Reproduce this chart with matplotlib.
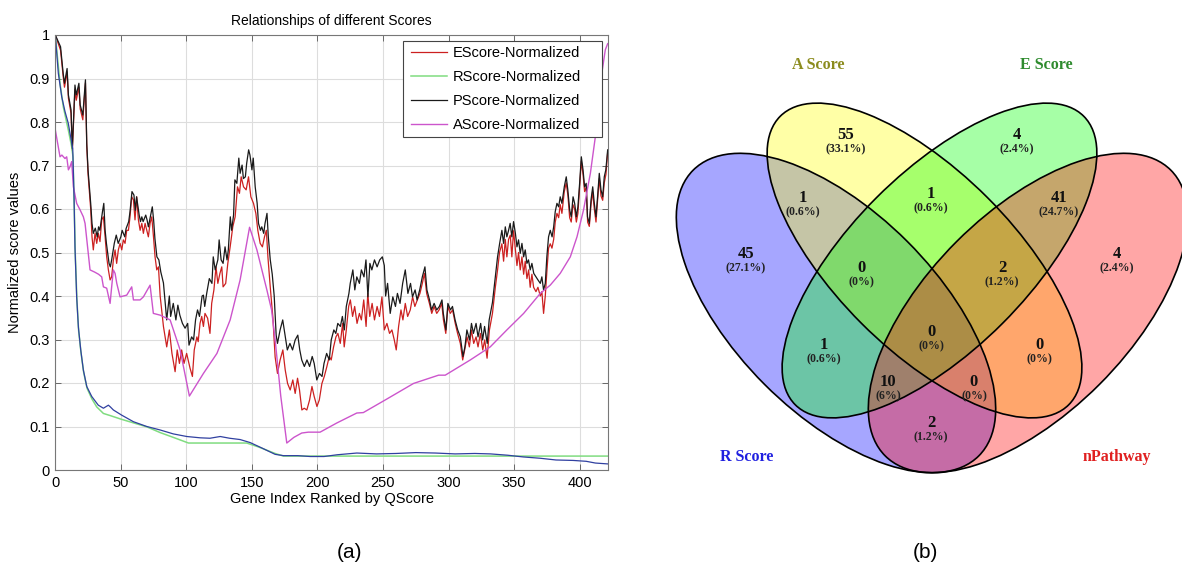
import matplotlib
matplotlib.use("Agg")
import matplotlib.pyplot as plt
from matplotlib.patches import Ellipse, Rectangle

# ---------------- panel (a): values ----------------
# PScore-Normalized (black)
p_idx = [0, 4, 6, 7, 9, 10, 12, 13, 15, 16, 18, 19, 21, 23, 24, 25, 27, 28, 29, 30.5,
         32, 33, 34, 36, 37, 38, 39, 41, 42, 43, 45, 46.5, 48, 50, 51, 53, 54, 56, 57, 58.5,
         60, 61, 62, 64, 65, 66, 67, 69, 70, 71, 72.5, 74, 75, 76, 77.5, 79, 80.5, 82.5, 85, 87,
         88, 90, 92, 93.5, 95, 97, 99, 101, 102, 104, 105.5, 107, 108.5, 110, 112, 113, 114, 115.5, 117.5, 119.5,
         120.5, 122, 124, 125, 126.5, 128, 129.5, 131, 132, 133.5, 134.5, 136, 137, 138.5, 140, 141, 142.5, 143.5, 145, 146,
         147.5, 148.5, 150, 151, 152.5, 154, 155, 156.5, 157.5, 159, 160, 161.5, 162.5, 164, 165.5, 167, 168.5, 169.5, 171.5, 173.5,
         175.5, 177, 179, 181, 183, 185, 186.5, 188, 190, 192, 194, 196, 197.5, 199.5, 201.5, 203.5, 205, 207, 209, 210.5,
         212.5, 214, 215.5, 217.5, 219, 220.5, 222, 224, 225, 227, 228.5, 230, 232, 233.5, 235.5, 237, 238.5, 240, 241.5, 243.5,
         245.5, 247.5, 249.5, 251, 252, 253.5, 255.5, 257.5, 259.5, 261, 263, 265, 267, 269, 271, 272.5, 274.5, 276, 278, 280,
         282, 283.5, 285.5, 287, 289, 291, 293, 295, 296, 298, 299.5, 301.5, 303, 305, 307, 309, 311, 312.5, 314, 316,
         317.5, 319, 321, 322.5, 324.5, 326, 327.5, 329.5, 331, 333.5, 335.7, 337.4, 339, 340.7, 342, 343.3, 344.5, 345.8, 347, 348.3,
         349.6, 351, 352.2, 353.4, 354.7, 356, 357.3, 358.5, 359.8, 361, 362.3, 363.6, 365, 366.7, 368.2, 370, 371.2, 372.5, 373.8, 375,
         376.3, 377.6, 379, 380.2, 381.4, 382.7, 384, 385.2, 386.5, 388.3, 389.8, 391, 392.4, 393.6, 395, 396.2, 397.5, 398.7, 400, 401.3,
         402.6, 403.8, 405, 406, 407.4, 408.7, 410, 411.2, 412.5, 413.7, 415, 416.3, 417.6, 418.8, 420, 421.4]
p_val = [1.0, 0.973, 0.912, 0.889, 0.923, 0.862, 0.828, 0.739, 0.885, 0.862, 0.889, 0.839, 0.816, 0.897, 0.750, 0.689, 0.613, 0.567, 0.544, 0.556,
         0.536, 0.559, 0.551, 0.594, 0.613, 0.551, 0.521, 0.475, 0.467, 0.483, 0.521, 0.540, 0.521, 0.536, 0.551, 0.536, 0.555, 0.571, 0.594, 0.640,
         0.632, 0.597, 0.628, 0.586, 0.571, 0.582, 0.571, 0.586, 0.575, 0.559, 0.582, 0.605, 0.575, 0.532, 0.490, 0.483, 0.455, 0.430, 0.345, 0.400,
         0.353, 0.383, 0.345, 0.379, 0.356, 0.337, 0.326, 0.337, 0.287, 0.306, 0.299, 0.345, 0.368, 0.353, 0.400, 0.402, 0.376, 0.406, 0.440, 0.429,
         0.490, 0.460, 0.483, 0.529, 0.483, 0.475, 0.513, 0.483, 0.506, 0.582, 0.551, 0.586, 0.667, 0.659, 0.717, 0.682, 0.701, 0.670, 0.674, 0.705,
         0.736, 0.724, 0.690, 0.717, 0.651, 0.613, 0.567, 0.551, 0.559, 0.544, 0.567, 0.590, 0.536, 0.483, 0.450, 0.400, 0.310, 0.291, 0.322, 0.345,
         0.306, 0.276, 0.291, 0.276, 0.299, 0.310, 0.276, 0.253, 0.238, 0.253, 0.238, 0.261, 0.245, 0.207, 0.222, 0.215, 0.245, 0.268, 0.253, 0.299,
         0.322, 0.314, 0.337, 0.330, 0.353, 0.322, 0.376, 0.406, 0.429, 0.460, 0.414, 0.444, 0.429, 0.460, 0.444, 0.483, 0.398, 0.475, 0.460, 0.483,
         0.467, 0.483, 0.490, 0.470, 0.400, 0.429, 0.360, 0.398, 0.376, 0.406, 0.383, 0.429, 0.460, 0.406, 0.429, 0.398, 0.414, 0.391, 0.414, 0.444,
         0.467, 0.414, 0.391, 0.368, 0.383, 0.368, 0.376, 0.391, 0.360, 0.322, 0.383, 0.368, 0.376, 0.345, 0.322, 0.306, 0.261, 0.283, 0.322, 0.299,
         0.337, 0.314, 0.337, 0.306, 0.337, 0.299, 0.330, 0.291, 0.345, 0.385, 0.445, 0.490, 0.521, 0.551, 0.521, 0.559, 0.536, 0.551, 0.567, 0.536,
         0.571, 0.544, 0.513, 0.529, 0.498, 0.521, 0.490, 0.506, 0.475, 0.483, 0.460, 0.475, 0.452, 0.444, 0.437, 0.429, 0.444, 0.414, 0.429, 0.490,
         0.536, 0.551, 0.536, 0.559, 0.594, 0.613, 0.605, 0.628, 0.613, 0.651, 0.674, 0.644, 0.598, 0.582, 0.628, 0.613, 0.582, 0.605, 0.659, 0.720,
         0.690, 0.651, 0.659, 0.582, 0.567, 0.621, 0.651, 0.613, 0.582, 0.628, 0.682, 0.644, 0.628, 0.674, 0.690, 0.736]

# EScore-Normalized (red)
e_idx = [0, 4, 6, 7, 9, 10, 12, 13, 15, 16, 18, 19, 21, 23, 24, 25, 27, 28, 29, 30.3,
         31.6, 32.8, 34.1, 35.4, 36.7, 38, 39.2, 40.5, 41.8, 43, 44.3, 45.6, 46.8, 48.1, 49.4, 50.7, 51.9, 53.2, 54.5, 55.8,
         57, 58.3, 59.6, 60.8, 62.1, 63.4, 64.7, 66, 67.2, 68.5, 69.8, 71, 72.3, 73.6, 74.9, 76.1, 77.4, 78.7, 80, 82.5,
         85, 87, 89, 91.4, 93, 94.7, 96.4, 98.2, 100.2, 102.8, 104.6, 106, 108, 109, 110.4, 111.7, 113, 114.2, 116.2, 118,
         119.3, 121, 122.6, 124, 125.6, 127, 128, 130, 131.6, 133.4, 135.4, 137.2, 139, 140.5, 141.8, 143.6, 145.6, 147.4, 149.2, 151.2,
         153, 154.5, 156.3, 158, 159.6, 161, 162.2, 164, 166, 167.7, 169.5, 171.5, 173.6, 175.4, 177.2, 179.2, 181.2, 183, 184.8, 186.3,
         188.1, 189.9, 191.9, 194, 195.8, 197.5, 199.6, 201.4, 203.4, 205.2, 207.2, 209, 210.5, 212.3, 214.1, 215.6, 217.4, 219.2, 220.4, 222,
         223.8, 225.1, 226.8, 228.4, 230.2, 232, 233.5, 235.3, 237.1, 238.4, 239.9, 241.7, 243.5, 245.5, 247.3, 249.2, 251, 253, 255, 256.8,
         258.6, 260.1, 261.9, 263.7, 265.2, 267, 268.8, 270.8, 272.6, 274.3, 276.2, 278.2, 280, 281.6, 283.3, 285.4, 287.2, 289, 291, 292.8,
         294.8, 296.1, 297.9, 299.5, 301.3, 303.1, 305.1, 306.9, 309, 310.8, 312.3, 314.1, 315.9, 317.4, 319.2, 321, 322.5, 324.3, 326.1, 327.6,
         329.4, 331.2, 333.5, 335.7, 337.4, 338.9, 340.7, 342, 343.3, 344.5, 345.8, 347.1, 348.3, 349.6, 350.9, 352.2, 353.4, 354.7, 356, 357.3,
         358.5, 359.8, 361.1, 362.3, 363.6, 364.9, 366.7, 368.2, 370, 371.2, 372.5, 373.8, 375.1, 376.3, 377.6, 378.9, 380.2, 381.4, 382.7, 384,
         385.2, 386.5, 388.3, 389.8, 391.1, 392.4, 393.6, 394.9, 396.2, 397.5, 398.7, 400, 401.3, 402.6, 403.8, 405.1, 406.1, 407.4, 408.7, 409.9,
         411.2, 412.5, 413.7, 415, 416.3, 417.6, 418.8, 420.1, 421.4]
e_val = [1.0, 0.965, 0.905, 0.880, 0.915, 0.855, 0.820, 0.735, 0.875, 0.850, 0.880, 0.830, 0.805, 0.890, 0.745, 0.680, 0.600, 0.536, 0.506, 0.544,
         0.521, 0.544, 0.525, 0.575, 0.582, 0.536, 0.490, 0.460, 0.437, 0.444, 0.483, 0.506, 0.475, 0.506, 0.521, 0.506, 0.529, 0.521, 0.551, 0.551,
         0.582, 0.628, 0.621, 0.575, 0.628, 0.575, 0.551, 0.567, 0.544, 0.567, 0.551, 0.536, 0.567, 0.582, 0.536, 0.490, 0.460, 0.467, 0.400, 0.330,
         0.283, 0.322, 0.268, 0.226, 0.276, 0.245, 0.276, 0.245, 0.268, 0.234, 0.215, 0.276, 0.306, 0.295, 0.337, 0.353, 0.330, 0.360, 0.349, 0.314,
         0.383, 0.414, 0.467, 0.429, 0.452, 0.467, 0.421, 0.429, 0.475, 0.513, 0.559, 0.582, 0.651, 0.636, 0.674, 0.651, 0.644, 0.674, 0.628, 0.613,
         0.590, 0.551, 0.521, 0.513, 0.536, 0.551, 0.490, 0.420, 0.350, 0.260, 0.222, 0.253, 0.276, 0.230, 0.199, 0.184, 0.207, 0.176, 0.211, 0.184,
         0.138, 0.142, 0.138, 0.161, 0.192, 0.169, 0.146, 0.161, 0.199, 0.215, 0.238, 0.261, 0.253, 0.283, 0.306, 0.314, 0.291, 0.337, 0.283, 0.322,
         0.376, 0.391, 0.353, 0.376, 0.337, 0.360, 0.345, 0.391, 0.330, 0.406, 0.353, 0.383, 0.345, 0.376, 0.353, 0.398, 0.322, 0.337, 0.314, 0.322,
         0.299, 0.276, 0.330, 0.368, 0.345, 0.383, 0.353, 0.368, 0.398, 0.376, 0.391, 0.406, 0.429, 0.452, 0.406, 0.383, 0.360, 0.376, 0.360, 0.368,
         0.383, 0.345, 0.314, 0.376, 0.360, 0.368, 0.337, 0.314, 0.291, 0.253, 0.276, 0.306, 0.283, 0.322, 0.291, 0.306, 0.283, 0.314, 0.276, 0.299,
         0.257, 0.322, 0.360, 0.420, 0.460, 0.500, 0.520, 0.480, 0.530, 0.490, 0.530, 0.540, 0.490, 0.550, 0.510, 0.470, 0.500, 0.460, 0.490, 0.450,
         0.480, 0.440, 0.460, 0.420, 0.450, 0.420, 0.410, 0.420, 0.400, 0.410, 0.360, 0.400, 0.460, 0.510, 0.520, 0.510, 0.530, 0.570, 0.590, 0.580,
         0.610, 0.590, 0.640, 0.660, 0.630, 0.580, 0.570, 0.610, 0.600, 0.570, 0.590, 0.650, 0.710, 0.680, 0.640, 0.650, 0.570, 0.560, 0.610, 0.640,
         0.600, 0.570, 0.620, 0.670, 0.630, 0.620, 0.660, 0.680, 0.730]

# AScore-Normalized (magenta)
a_idx = [0, 3.6, 5, 7.4, 8.7, 10, 11.2, 12.5, 13.8, 16.3, 18.9, 21.4, 22.7, 26.5, 30, 33, 35.4, 36.7, 39.2, 41.8,
         43, 44.3, 45.6, 46.9, 49.4, 54.5, 58.3, 59.6, 64.7, 67.2, 72.3, 74.8, 80, 87.6, 95.2, 102.3, 113, 123.3, 133.4, 141,
         148.2, 153.8, 161.4, 165, 167.7, 172, 176.6, 182, 188, 193, 202, 214.7, 230, 235, 251.7, 273.3, 292.4, 297.5, 316.6, 331.8,
         344.5, 357.3, 370, 377.6, 385.2, 392.9, 398, 403, 408.2, 412, 415.8, 419.6, 421.4]
a_val = [0.782, 0.720, 0.724, 0.716, 0.720, 0.690, 0.697, 0.709, 0.651, 0.613, 0.598, 0.582, 0.567, 0.460, 0.455, 0.450, 0.444, 0.421, 0.418, 0.383,
         0.421, 0.460, 0.452, 0.429, 0.398, 0.402, 0.421, 0.391, 0.391, 0.398, 0.425, 0.360, 0.356, 0.345, 0.276, 0.170, 0.222, 0.268, 0.345, 0.437,
         0.558, 0.506, 0.414, 0.368, 0.300, 0.170, 0.062, 0.075, 0.085, 0.087, 0.087, 0.108, 0.131, 0.132, 0.161, 0.199, 0.218, 0.218, 0.253, 0.283,
         0.322, 0.360, 0.406, 0.425, 0.452, 0.490, 0.536, 0.598, 0.682, 0.766, 0.889, 0.966, 0.980]

# RScore-Normalized (green)
r_idx = [0, 3.6, 6.1, 9.9, 12.5, 13.5, 14.5, 15.2, 16.5, 17.8, 19.6, 21.6, 24.2, 28, 31.6, 36.7, 42, 50, 60, 70,
         80, 90, 101.6, 146, 155, 167.7, 174, 421.4]
r_val = [1.0, 0.889, 0.835, 0.782, 0.743, 0.720, 0.600, 0.500, 0.390, 0.320, 0.270, 0.225, 0.188, 0.163, 0.145, 0.130, 0.125, 0.117, 0.108, 0.099,
         0.086, 0.075, 0.062, 0.062, 0.053, 0.038, 0.032, 0.032]

# unlabelled blue curve
q_idx = [0, 2.3, 4.9, 7.4, 9.9, 11.7, 13.3, 14.3, 15, 16.3, 17.6, 19.4, 21.4, 24, 27.8, 32.8, 36.7, 40.5, 42, 44.3,
         50.7, 59.6, 69.8, 80, 90, 100.3, 110.5, 118, 125.8, 133, 141, 148.7, 158, 167.7, 174, 185, 194.5, 205, 215, 230,
         245, 260, 275, 290, 305, 320, 332, 345, 357, 370, 382, 395, 405, 412, 421.4]
q_val = [1.0, 0.912, 0.858, 0.824, 0.797, 0.766, 0.739, 0.628, 0.513, 0.398, 0.329, 0.276, 0.230, 0.192, 0.169, 0.149, 0.142, 0.149, 0.145, 0.138,
         0.126, 0.111, 0.100, 0.092, 0.083, 0.077, 0.074, 0.073, 0.077, 0.073, 0.070, 0.063, 0.050, 0.036, 0.033, 0.033, 0.031, 0.031, 0.035, 0.039,
         0.037, 0.038, 0.040, 0.039, 0.037, 0.038, 0.037, 0.034, 0.030, 0.027, 0.023, 0.022, 0.020, 0.016, 0.014]

# ---------------- panel (b): Venn counts ----------------
set_names = ["A Score", "E Score", "R Score", "nPathway"]
# regions: A, E, R&A, A&E, E&nP, R, nP, R&A&E, A&E&nP, all four, R&E, A&nP, R&E&nP-side, A&nP&R-side, R&nP
region_counts = [55, 4, 1, 1, 41, 45, 4, 0, 2, 0, 1, 0, 10, 0, 2]

plt.rcParams["font.family"] = ["Liberation Sans", "DejaVu Sans"]

W, H = 1182, 571
fig = plt.figure(figsize=(W / 100, H / 100), dpi=100)

# ---- (a) line chart
AX_L, AX_B, AX_W, AX_H = 55.3, 101, 552.5, 435
ax = fig.add_axes([AX_L / W, AX_B / H, AX_W / W, AX_H / H])
ax.plot(e_idx, e_val, color="#cc2020", lw=0.9, label="EScore-Normalized")
ax.plot(r_idx, r_val, color="#80dc80", lw=1.1, label="RScore-Normalized")
ax.plot(p_idx, p_val, color="#1a1a1a", lw=0.9, label="PScore-Normalized")
ax.plot(a_idx, a_val, color="#cc55cc", lw=1.0, label="AScore-Normalized")
ax.plot(q_idx, q_val, color="#3040a0", lw=0.9, label="_nolegend_")

ax.set_xlim(0, 421.5)
ax.set_ylim(0, 1)
ax.set_xticks(range(0, 401, 50))
ax.set_yticks([i / 10 for i in range(11)])
ax.set_yticklabels([f"{i / 10:g}" for i in range(11)])
ax.tick_params(direction="in", top=True, right=True, length=4, width=0.6,
               labelsize=10.5, color="#555555", pad=4)
ax.grid(True, color="#dddddd", lw=0.8)
for s in ax.spines.values():
    s.set_color("#777777")
    s.set_linewidth(0.8)
ax.set_title("Relationships of different Scores", fontsize=10, pad=7)
ax.set_xlabel("Gene Index Ranked by QScore", fontsize=10.5, labelpad=1.5)
ax.set_ylabel("Normalized score values", fontsize=10.5, labelpad=5)


def px_to_axes(x, y):
    """Figure pixel (from top-left) to axes fraction of the line panel."""
    return (x - AX_L) / AX_W, (H - AX_B - y) / AX_H


# legend box drawn by hand (MATLAB style: wide right margin)
bx0, by0 = px_to_axes(403, 137)
bx1, by1 = px_to_axes(602, 41)
ax.add_patch(Rectangle((bx0, by0), bx1 - bx0, by1 - by0, transform=ax.transAxes,
                       facecolor="white", edgecolor="#444444", lw=0.8,
                       zorder=4, clip_on=False))
lx, ly = px_to_axes(411, 46)
leg = ax.legend(loc="upper left", bbox_to_anchor=(lx, ly), borderaxespad=0,
                fontsize=10.5, handlelength=2.5, handletextpad=0.35, labelspacing=0.68,
                borderpad=0, frameon=False)
leg.set_zorder(5)

# ---- (b) Venn diagram, axes in pixel units
vx = fig.add_axes([591 / W, 0, 591 / W, 1])
vx.set_xlim(591, 1182)
vx.set_ylim(571, 0)
vx.axis("off")

# ellipse layout: centre, width, height, angle, fill colour
shapes = [
    ((836, 313), 404, 202, 45, (0, 0, 1)),     # R Score
    ((924.5, 260.5), 408, 178, 45, (1, 1, 0)),   # A Score
    ((939.5, 260.5), 408, 178, -45, (0, 1, 0)),  # E Score
    ((1028, 313), 404, 202, -45, (1, 0, 0)),   # nPathway
]
for c, w, h, ang, col in shapes:
    vx.add_patch(Ellipse(c, w, h, angle=ang, facecolor=col + (0.35,), edgecolor="none"))
for c, w, h, ang, col in shapes:
    vx.add_patch(Ellipse(c, w, h, angle=ang, fill=False, edgecolor="black", lw=1.2))

region_pos = [(846, 135), (1017, 135), (803, 198), (931, 194), (1059, 198),
              (746, 254), (1117, 254), (861, 268), (1002, 268), (931, 332),
              (824, 345), (1039, 345), (888, 382), (974, 382), (931, 423)]
total = sum(region_counts)
serif = ["Liberation Serif", "DejaVu Serif"]
for (x, y), n in zip(region_pos, region_counts):
    vx.text(x, y, str(n), ha="center", va="center", fontsize=12,
            fontweight="bold", family=serif, color="#111111")
    vx.text(x, y + 14, f"({round(100 * n / total, 1):g}%)", ha="center", va="center",
            fontsize=8.5, fontweight="bold", family=serif, color="#222222")

name_pos = [(818, 65), (1046, 65), (747, 457), (1117, 457)]
name_col = ["#8c8c1e", "#2e8b2e", "#2020e0", "#e02020"]
for (x, y), name, col in zip(name_pos, set_names, name_col):
    vx.text(x, y, name, ha="center", va="center", fontsize=11.5,
            fontweight="bold", family=serif, color=col)

fig.text(350 / W, 1 - 552 / H, "(a)", ha="center", va="center", fontsize=15)
fig.text(925 / W, 1 - 552 / H, "(b)", ha="center", va="center", fontsize=15)

fig.savefig("out.png", dpi=100)
